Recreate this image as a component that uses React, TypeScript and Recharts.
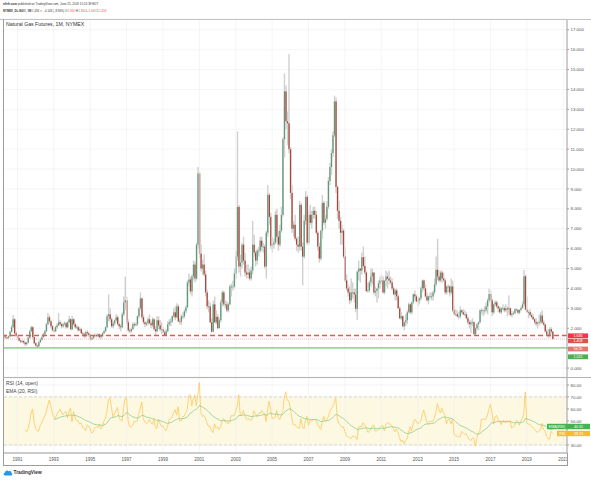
import React from 'react';
import {
  Bar,
  CartesianGrid,
  ComposedChart,
  Line,
  ReferenceArea,
  ReferenceLine,
  XAxis,
  YAxis,
} from 'recharts';

// NG1! monthly, Apr 1990 .. Jun 2020 (open of a month = close of the month before)
const START_YEAR = 1990;
const START_MONTH = 3; // April, 0-based
const TOTAL_MONTHS = 372; // time scale runs on to Mar 2021
const firstOpen = 1.62;

const closes = [
  1.58, 1.53, 1.52, 1.6, 1.82, 2.05, 2.45, 1.75, 1.62, // 1990
  1.5, 1.38, 1.32, 1.36, 1.28, 1.2, 1.28, 1.52, 1.85, 2.05, 1.55, 1.25,
  1.12, 1.1, 1.3, 1.42, 1.55, 1.7, 1.85, 2.2, 2.55, 2.35, 2.1, 1.9,
  1.85, 2.05, 2.15, 2.3, 2.2, 2.1, 2.2, 2.25, 2.05, 2.3, 2.45, 1.95,
  2.45, 2.2, 2.05, 2.05, 1.9, 1.95, 1.75, 1.7, 1.6, 1.8, 1.75, 1.65,
  1.45, 1.5, 1.6, 1.65, 1.6, 1.7, 1.55, 1.6, 1.75, 1.85, 2.05, 2.6, // 1995
  2.7, 2.45, 2.1, 2.25, 2.4, 2.55, 2.2, 2.1, 2.05, 2.7, 3.3, 3.4,
  2.3, 1.9, 1.85, 1.95, 2.2, 2.15, 2.2, 2.6, 3.0, 3.5, 2.55, 2.3,
  2.2, 2.25, 2.45, 2.25, 2.15, 2.45, 1.95, 1.85, 2.4, 2.15, 1.95, 1.95,
  1.8, 1.65, 1.85, 2.2, 2.3, 2.35, 2.6, 2.8, 2.55, 3.1, 2.35, 2.33,
  2.6, 2.6, 2.85, 3.05, 4.3, 4.45, 3.85, 4.6, 5.2, 4.5, 6.2, 9.78, // 2000
  5.75, 5.0, 5.2, 4.7, 3.8, 3.1, 3.1, 2.3, 1.83, 3.2, 2.3, 2.57,
  2.0, 2.4, 3.3, 3.8, 3.2, 3.2, 2.9, 3.2, 4.1, 4.1, 4.1, 4.75,
  5.6, 8.1, 5.1, 5.3, 6.2, 5.4, 4.8, 4.7, 4.8, 4.5, 4.9, 6.2,
  5.8, 5.4, 5.9, 5.9, 6.4, 6.1, 6.1, 5.1, 6.8, 8.7, 7.6, 6.15,
  6.2, 6.3, 7.7, 6.6, 6.2, 6.9, 7.7, 11.5, 13.9, 12.4, 12.3, 11.0, // 2005
  8.8, 7.0, 7.2, 6.5, 6.2, 6.1, 8.2, 6.1, 5.6, 7.4, 8.6, 6.3,
  7.7, 7.3, 7.7, 7.9, 7.7, 6.8, 6.1, 5.5, 6.9, 8.3, 7.3, 7.5,
  8.1, 9.4, 10.1, 10.8, 11.7, 13.4, 9.1, 7.9, 7.4, 6.8, 6.9, 5.6,
  4.4, 4.0, 3.8, 3.4, 3.8, 3.8, 3.7, 2.98, 4.84, 5.0, 4.9, 5.57,
  5.13, 4.8, 3.87, 3.9, 4.3, 4.6, 4.8, 3.8, 3.87, 4.0, 4.25, 4.4, // 2010
  4.4, 3.8, 4.4, 4.6, 4.5, 4.4, 4.3, 4.0, 3.7, 3.9, 3.6, 3.0,
  2.5, 2.6, 2.1, 2.3, 2.4, 2.8, 3.2, 2.8, 3.3, 3.7, 3.6, 3.35,
  3.4, 3.5, 4.0, 4.4, 4.0, 3.6, 3.4, 3.6, 3.6, 3.6, 3.8, 4.2,
  4.94, 4.6, 4.4, 4.8, 4.5, 4.4, 3.8, 4.1, 4.1, 3.8, 4.1, 2.9,
  2.7, 2.7, 2.6, 2.6, 2.9, 2.8, 2.7, 2.7, 2.5, 2.3, 2.2, 2.3, // 2015
  2.3, 1.7, 2.0, 2.2, 2.3, 2.9, 2.9, 2.9, 2.9, 3.1, 3.4, 3.72,
  3.4, 2.8, 3.2, 3.3, 3.1, 3.0, 2.8, 3.0, 3.0, 2.9, 3.0, 2.95,
  3.0, 2.67, 2.73, 2.76, 2.95, 2.92, 2.78, 2.92, 3.01, 3.2, 4.61, 2.94,
  2.81, 2.81, 2.66, 2.57, 2.45, 2.31, 2.23, 2.28, 2.33, 2.64, 2.28, 2.19,
  1.84, 1.68, 1.64, 1.95, 1.83, 1.458, // 2020
];

const highs = [
  1.68, 1.62, 1.58, 1.64, 1.88, 2.15, 2.66, 2.5, 1.85,
  1.68, 1.55, 1.42, 1.42, 1.4, 1.32, 1.32, 1.58, 1.92, 2.12, 2.1, 1.6,
  1.3, 1.18, 1.35, 1.48, 1.62, 1.78, 1.92, 2.28, 2.76, 2.65, 2.42, 2.15,
  2.02, 2.12, 2.25, 2.76, 2.4, 2.28, 2.28, 2.35, 2.32, 2.38, 2.62, 2.5,
  2.62, 2.5, 2.28, 2.18, 2.12, 2.05, 2.0, 1.82, 1.78, 1.88, 1.9, 1.82,
  1.7, 1.55, 1.65, 1.75, 1.72, 1.75, 1.72, 1.65, 1.8, 1.92, 2.1, 2.7,
  3.7, 3.0, 2.55, 2.35, 2.45, 2.7, 2.65, 2.3, 2.2, 2.8, 3.6, 4.6,
  3.6, 2.45, 2.0, 2.05, 2.3, 2.3, 2.28, 2.65, 3.05, 3.8, 3.55, 2.7,
  2.38, 2.35, 2.55, 2.7, 2.35, 2.55, 2.5, 2.1, 2.6, 2.6, 2.4, 2.3,
  2.05, 1.92, 1.95, 2.35, 2.45, 2.5, 2.65, 3.0, 3.1, 3.25, 3.2, 2.5,
  2.7, 2.8, 2.95, 3.15, 4.4, 4.75, 4.6, 4.7, 5.4, 5.35, 6.3, 10.1,
  9.85, 6.2, 5.45, 5.7, 4.9, 3.95, 3.4, 3.3, 2.5, 3.4, 3.6, 2.9,
  2.7, 2.5, 3.45, 3.9, 3.9, 3.4, 3.35, 3.3, 4.2, 4.25, 4.4, 5.0,
  5.9, 11.9, 8.2, 5.7, 6.3, 6.6, 5.8, 5.2, 5.2, 5.0, 5.1, 7.4,
  6.7, 5.9, 6.0, 6.1, 6.6, 6.6, 6.3, 6.2, 6.9, 9.2, 8.8, 7.8,
  6.6, 6.5, 7.9, 8.0, 6.9, 7.2, 8.1, 11.6, 14.8, 14.2, 12.9, 15.78,
  11.1, 9.2, 7.4, 7.7, 6.6, 6.6, 8.4, 8.3, 6.3, 7.7, 8.9, 8.7,
  7.9, 8.2, 7.9, 8.1, 8.1, 7.9, 6.9, 6.3, 6.95, 8.7, 8.4, 7.7,
  8.4, 9.6, 10.3, 11.0, 11.9, 13.69, 13.6, 9.2, 8.4, 7.6, 7.2, 7.0,
  6.1, 4.7, 4.2, 4.1, 4.5, 4.3, 4.0, 4.0, 4.9, 5.4, 5.0, 5.8,
  6.1, 5.6, 4.9, 4.3, 4.4, 5.0, 5.0, 4.8, 4.1, 4.0, 4.4, 4.6,
  4.7, 4.6, 4.4, 4.9, 4.8, 4.9, 4.6, 4.5, 4.1, 4.0, 4.0, 3.7,
  3.1, 2.8, 2.65, 2.35, 2.7, 2.9, 3.3, 3.25, 3.35, 3.75, 3.9, 3.7,
  3.6, 3.55, 4.1, 4.45, 4.45, 4.2, 3.8, 3.65, 3.8, 3.8, 3.9, 4.5,
  5.6, 6.49, 4.9, 4.9, 4.9, 4.8, 4.5, 4.15, 4.2, 4.15, 4.5, 4.4,
  3.1, 2.95, 2.9, 2.8, 3.1, 2.95, 2.95, 2.9, 2.8, 2.6, 2.4, 2.4,
  2.5, 2.35, 2.05, 2.25, 2.35, 2.95, 3.0, 2.95, 3.1, 3.3, 3.5, 3.99,
  3.9, 3.5, 3.25, 3.4, 3.4, 3.15, 3.1, 3.05, 3.2, 3.1, 3.2, 3.1,
  3.66, 3.05, 2.85, 2.85, 3.0, 3.0, 2.95, 2.95, 3.1, 3.35, 4.93, 4.7,
  3.6, 2.9, 2.95, 2.75, 2.7, 2.5, 2.5, 2.35, 2.7, 2.8, 2.9, 2.4,
  2.2, 1.95, 1.95, 2.05, 2.05, 1.864,
];

const lows = [
  1.52, 1.48, 1.46, 1.48, 1.56, 1.78, 2.0, 1.7, 1.55,
  1.44, 1.33, 1.25, 1.27, 1.22, 1.1, 1.15, 1.25, 1.48, 1.8, 1.5, 1.2,
  1.08, 1.04, 1.06, 1.26, 1.38, 1.5, 1.65, 1.8, 2.15, 2.25, 2.0, 1.82,
  1.78, 1.8, 1.98, 2.1, 2.12, 2.0, 2.02, 2.12, 1.98, 2.0, 2.25, 1.9,
  1.9, 2.12, 1.98, 1.95, 1.82, 1.85, 1.7, 1.6, 1.52, 1.55, 1.65, 1.56,
  1.37, 1.38, 1.46, 1.55, 1.55, 1.55, 1.5, 1.45, 1.55, 1.7, 1.8, 2.0,
  2.35, 2.3, 2.02, 2.0, 2.15, 2.3, 2.15, 1.95, 1.85, 2.0, 2.6, 2.9,
  2.2, 1.8, 1.75, 1.78, 1.9, 2.05, 2.1, 2.1, 2.5, 2.9, 2.45, 2.2,
  2.05, 2.1, 2.15, 2.2, 2.0, 2.05, 1.88, 1.65, 1.8, 1.95, 1.85, 1.7,
  1.75, 1.63, 1.62, 1.8, 2.1, 2.1, 2.25, 2.5, 2.4, 2.5, 2.3, 2.2,
  2.15, 2.45, 2.5, 2.75, 3.0, 4.1, 3.7, 3.6, 4.4, 4.3, 4.4, 6.0,
  5.5, 4.85, 4.7, 4.6, 3.6, 2.95, 2.8, 2.25, 1.78, 1.81, 2.25, 2.2,
  1.98, 2.0, 2.3, 3.1, 3.1, 3.0, 2.8, 2.8, 3.15, 3.6, 3.9, 4.0,
  4.5, 5.4, 4.8, 4.6, 5.0, 5.2, 4.6, 4.5, 4.5, 4.4, 4.4, 4.7,
  5.6, 5.1, 5.2, 5.6, 5.8, 5.9, 5.8, 5.0, 4.5, 6.6, 7.2, 6.0,
  5.8, 6.0, 6.2, 6.3, 5.9, 6.1, 6.8, 7.6, 10.6, 12.0, 11.2, 10.8,
  8.5, 6.8, 6.6, 6.4, 5.9, 5.8, 5.9, 5.9, 4.15, 5.5, 7.2, 6.2,
  6.2, 7.2, 7.0, 7.5, 7.5, 6.7, 5.9, 5.3, 5.4, 6.5, 7.2, 7.0,
  7.4, 8.0, 9.2, 9.7, 10.6, 11.6, 8.8, 7.5, 7.0, 6.2, 6.2, 5.5,
  4.3, 3.9, 3.6, 3.2, 3.3, 3.5, 3.3, 2.8, 2.41, 4.4, 4.3, 4.7,
  5.0, 4.7, 3.8, 3.8, 3.8, 4.1, 4.2, 3.7, 3.6, 3.3, 3.5, 4.0,
  4.2, 3.75, 3.7, 4.1, 4.0, 4.2, 4.2, 3.9, 3.65, 3.4, 3.4, 2.98,
  2.45, 2.4, 2.05, 1.9, 2.1, 2.2, 2.75, 2.7, 2.7, 3.2, 3.4, 3.3,
  3.1, 3.2, 3.4, 3.8, 3.9, 3.55, 3.35, 3.2, 3.5, 3.4, 3.4, 3.7,
  4.1, 4.4, 4.3, 4.3, 4.3, 4.35, 3.7, 3.7, 3.8, 3.6, 3.7, 2.8,
  2.65, 2.6, 2.55, 2.45, 2.5, 2.7, 2.65, 2.6, 2.45, 2.2, 1.99, 1.76,
  2.1, 1.68, 1.61, 1.9, 1.9, 2.25, 2.7, 2.6, 2.7, 2.8, 2.7, 3.3,
  3.1, 2.6, 2.7, 3.1, 3.0, 2.8, 2.75, 2.7, 2.9, 2.8, 2.8, 2.6,
  2.7, 2.6, 2.55, 2.65, 2.7, 2.85, 2.7, 2.7, 2.85, 3.0, 3.1, 2.9,
  2.78, 2.5, 2.6, 2.5, 2.42, 2.2, 2.1, 2.0, 2.15, 2.2, 2.2, 2.1,
  1.8, 1.67, 1.52, 1.55, 1.7, 1.449,
];

const priceTicks = [0, 1, 2, 3, 4, 5, 6, 7, 8, 9, 10, 11, 12, 13, 14, 15, 16, 17];
const rsiTicks = [30, 40, 50, 60, 70, 80];
const labelYears = [1991, 1993, 1995, 1997, 1999, 2001, 2003, 2005, 2007, 2009, 2011, 2013, 2015, 2017, 2019, 2021];
const dashedLevel = 1.636;
const supportLevel = 1.015;
const lastPrice = 1.458;

const UP = '#5d9b78';
const DOWN = '#ad4438';
const WICK = '#cfcfcf';
const AXIS = '#9c9c9c';
const GRID = '#f0f0f0';
const RED = '#ef5350';
const FONT = "'Liberation Sans', Arial, sans-serif";

const monthLabels = Array.from({ length: TOTAL_MONTHS }, (_, i) => {
  const m = START_MONTH + i;
  return `${START_YEAR + Math.floor(m / 12)}-${String((m % 12) + 1).padStart(2, '0')}`;
});
const yearKeys = labelYears.map((y) => `${y}-01`);
const opens = closes.map((c, i) => (i === 0 ? firstOpen : closes[i - 1]));

// RSI(14) on open, Wilder smoothing
function calcRsi(src: number[], len: number) {
  const out: (number | null)[] = src.map(() => null);
  let up = 0;
  let down = 0;
  for (let i = 1; i < src.length; i++) {
    const ch = src[i] - src[i - 1];
    const u = Math.max(ch, 0);
    const d = Math.max(-ch, 0);
    if (i <= len) {
      up += u / len;
      down += d / len;
      if (i < len) continue;
    } else {
      up = (up * (len - 1) + u) / len;
      down = (down * (len - 1) + d) / len;
    }
    out[i] = down === 0 ? 100 : 100 - 100 / (1 + up / down);
  }
  return out;
}

function calcEma(src: (number | null)[], len: number) {
  const out: (number | null)[] = src.map(() => null);
  const k = 2 / (len + 1);
  const seed: number[] = [];
  let prev: number | null = null;
  src.forEach((v, i) => {
    if (v == null) return;
    if (prev == null) {
      seed.push(v);
      if (seed.length === len) {
        prev = seed.reduce((a, b) => a + b, 0) / len;
        out[i] = prev;
      }
      return;
    }
    prev = v * k + prev * (1 - k);
    out[i] = prev;
  });
  return out;
}

const rsi = calcRsi(opens, 14);
const ema = calcEma(rsi, 20);

const rows = monthLabels.map((label, i) => {
  if (i >= closes.length) return { label, range: null, rsi: null, ema: null };
  return {
    label,
    open: opens[i],
    close: closes[i],
    high: highs[i],
    low: lows[i],
    range: [lows[i], highs[i]],
    rsi: rsi[i],
    ema: ema[i],
  };
});

const Candle = (props: any) => {
  const { x, y, width, height, payload } = props;
  if (!payload || payload.close == null || !isFinite(y) || !isFinite(height)) return <g />;
  const top = Math.min(y, y + height);
  const h = Math.abs(height);
  const { open, close, high, low } = payload;
  const k = high > low ? h / (high - low) : 0;
  const py = (v: number) => top + (high - v) * k;
  const cx = x + width / 2;
  const bTop = py(Math.max(open, close));
  const bBot = py(Math.min(open, close));
  return (
    <g>
      <line x1={cx} x2={cx} y1={top} y2={top + h} stroke={WICK} strokeWidth={1.4} />
      <rect
        x={cx - 0.65}
        width={1.3}
        y={bTop}
        height={Math.max(bBot - bTop, 0.8)}
        fill={close >= open ? UP : DOWN}
      />
    </g>
  );
};

const YearTick = ({ x, y, payload }: any) => {
  const id = `clip-${payload.value}`;
  return (
    <g>
      <defs>
        <clipPath id={id}>
          <rect x={0} y={y - 4} width={567} height={16} />
        </clipPath>
      </defs>
      <text x={x} y={y + 7.6} textAnchor="middle" fontSize={4.5} fill="#555" clipPath={`url(#${id})`}>
        {String(payload.value).slice(0, 4)}
      </text>
    </g>
  );
};

// labels hidden behind the value boxes on the right scale
const priceLabel = (v: number) => (v === 1 ? '' : v.toFixed(3));
const rsiLabel = (v: number) => (v === 40 ? '' : v.toFixed(2));

const abs = (s: React.CSSProperties): React.CSSProperties => ({
  position: 'absolute',
  whiteSpace: 'nowrap',
  lineHeight: 1,
  ...s,
});

// value tag on the right scale
const Tag = ({ y, h, x = 568, w = 20, bg, parts }: any) => (
  <g>
    <rect x={x} y={y} width={w} height={h} fill={bg} />
    {parts.map((p: any, i: number) => (
      <text key={i} x={p.x} y={y + h / 2 + 1.3} fontSize={3.7} fill="#fff" textAnchor="middle">
        {p.t}
      </text>
    ))}
  </g>
);

const App = () => {
  return (
    <div
      style={{
        position: 'absolute',
        left: 0,
        top: 0,
        width: 591,
        height: 480,
        background: '#fff',
        fontFamily: FONT,
        overflow: 'hidden',
      }}
    >
      {/* header */}
      <div style={abs({ top: 3.3, left: 3, fontSize: 3.0, color: '#333' })}>
        <b>nftrh.com</b> published on TradingView.com, June 25, 2020 15:51:39 EDT
      </div>
      <div style={abs({ top: 10.3, left: 3, fontSize: 2.8, color: '#333' })}>
        <b>NYMEX_DL:NG1!, 1M</b> 1.458 <span style={{ color: RED }}>▼</span> −0.143 (−8.93%) O:
        <span style={{ color: RED }}>1.830</span> H:<span style={{ color: RED }}>1.864</span> L:
        <span style={{ color: RED }}>1.449</span> C:<span style={{ color: RED }}>1.458</span>
      </div>

      {/* price pane */}
      <div style={{ position: 'absolute', left: 0, top: 0 }}>
        <ComposedChart
          width={591}
          height={378}
          data={rows}
          margin={{ top: 19, right: 0, bottom: 1, left: 3 }}
          barCategoryGap={0}
          barGap={0}
        >
          <CartesianGrid vertical={false} stroke={GRID} strokeWidth={0.7} />
          {yearKeys.map((k) => (
            <ReferenceLine key={k} x={k} stroke={GRID} strokeWidth={0.7} />
          ))}
          <XAxis dataKey="label" scale="band" hide />
          <YAxis
            orientation="right"
            width={24}
            domain={[-0.45, 17.54]}
            ticks={priceTicks}
            interval={0}
            allowDataOverflow
            tickFormatter={priceLabel}
            tick={{ fontSize: 4.4, fill: '#555' }}
            tickSize={2}
            tickMargin={1.5}
            stroke={AXIS}
          />
          <ReferenceLine y={supportLevel} stroke="#7cc47c" strokeWidth={1.1} />
          <ReferenceLine y={lastPrice} stroke="#e57373" strokeWidth={0.5} strokeDasharray="1 1" />
          <ReferenceLine y={dashedLevel} stroke="#f0524f" strokeWidth={1.4} strokeDasharray="5 3" />
          <Bar dataKey="range" shape={(p: any) => <Candle {...p} />} isAnimationActive={false} />
        </ComposedChart>
      </div>
      <div style={abs({ top: 22, left: 6, fontSize: 5.2, color: '#333' })}>Natural Gas Futures, 1M, NYMEX</div>

      {/* RSI pane */}
      <div style={{ position: 'absolute', left: 0, top: 377 }}>
        <ComposedChart
          width={591}
          height={103}
          data={rows}
          margin={{ top: 1, right: 0, bottom: 15, left: 3 }}
        >
          <ReferenceArea y1={30} y2={70} fill="#fdf8e2" fillOpacity={1} stroke="none" />
          <CartesianGrid vertical={false} stroke={GRID} strokeWidth={0.7} />
          {yearKeys.map((k) => (
            <ReferenceLine key={k} x={k} stroke={GRID} strokeWidth={0.7} />
          ))}
          <ReferenceLine y={70} stroke="#c8c8c8" strokeWidth={0.7} strokeDasharray="3 2" />
          <ReferenceLine y={30} stroke="#c8c8c8" strokeWidth={0.7} strokeDasharray="3 2" />
          <XAxis
            dataKey="label"
            scale="band"
            ticks={yearKeys}
            interval={0}
            tick={<YearTick />}
            tickLine={false}
            tickSize={0}
            tickMargin={0}
            height={12}
            stroke={AXIS}
          />
          <YAxis
            orientation="right"
            width={24}
            domain={[23.3, 85.8]}
            ticks={rsiTicks}
            interval={0}
            allowDataOverflow
            tickFormatter={rsiLabel}
            tick={{ fontSize: 4.4, fill: '#555' }}
            tickSize={2}
            tickMargin={1.5}
            stroke={AXIS}
          />
          <Line dataKey="rsi" stroke="#fcc95a" strokeWidth={0.8} dot={false} isAnimationActive={false} />
          <Line dataKey="ema" stroke="#8dce8d" strokeWidth={0.8} dot={false} isAnimationActive={false} />
        </ComposedChart>
      </div>
      <div style={abs({ top: 382, left: 6, fontSize: 4.9, color: '#444' })}>RSI (14, open)</div>
      <div style={abs({ top: 389.5, left: 6, fontSize: 4.9, color: '#444' })}>EMA (20, RSI)</div>

      {/* value tags on the right scales */}
      <svg style={{ position: 'absolute', left: 0, top: 0 }} width={591} height={480} fontFamily={FONT}>
        <Tag y={333.4} h={4.6} bg="#f23645" parts={[{ x: 578, t: '1.636' }]} />
        <Tag y={338.6} h={4.6} bg="#d9534b" parts={[{ x: 578, t: '1.458' }]} />
        <Tag y={346.6} h={4.8} bg="#e2776d" parts={[{ x: 578, t: '5d 2h' }]} />
        <Tag y={354.4} h={4.8} bg="#4caf50" parts={[{ x: 578, t: '1.015' }]} />
        <Tag
          y={423.8}
          h={5.4}
          x={547}
          w={43}
          bg="#4caf50"
          parts={[
            { x: 557, t: 'EMA(RSI)' },
            { x: 578.5, t: '40.55' },
          ]}
        />
        <Tag
          y={430.8}
          h={5.4}
          x={557}
          w={33}
          bg="#f9b934"
          parts={[
            { x: 562.3, t: 'RSI' },
            { x: 578.5, t: '39.23' },
          ]}
        />
      </svg>

      {/* pane frame */}
      <div style={abs({ top: 19, left: 0, width: 591, height: 0, borderTop: '0.8px solid #c4c4c4' })} />
      <div style={abs({ top: 19, left: 2.5, width: 0, height: 446, borderLeft: '0.8px solid ' + AXIS })} />
      <div style={abs({ top: 376.6, left: 3, width: 588, height: 0, borderTop: '1.2px solid #b4b4b4' })} />
      <div style={abs({ top: 453, left: 567, width: 0, height: 12, borderLeft: '0.8px solid ' + AXIS })} />
      <div style={abs({ top: 465, left: 3, width: 565, height: 0, borderTop: '0.8px solid ' + AXIS })} />

      {/* footer logo */}
      <svg style={{ position: 'absolute', left: 3, top: 469 }} width={10} height={7} viewBox="0 0 10 7">
        <path d="M2 6.5 C0.4 6.5 0.2 4 1.8 3.8 C2 1.6 4.6 0.6 5.8 2.4 C7.2 1.6 8.8 2.6 8.4 4 C9.8 4.2 9.6 6.5 8 6.5 Z" fill="#2196f3" />
      </svg>
      <div style={abs({ top: 470.6, left: 13.5, fontSize: 4.8, color: '#333', fontWeight: 700 })}>TradingView</div>
    </div>
  );
};

export default App;
